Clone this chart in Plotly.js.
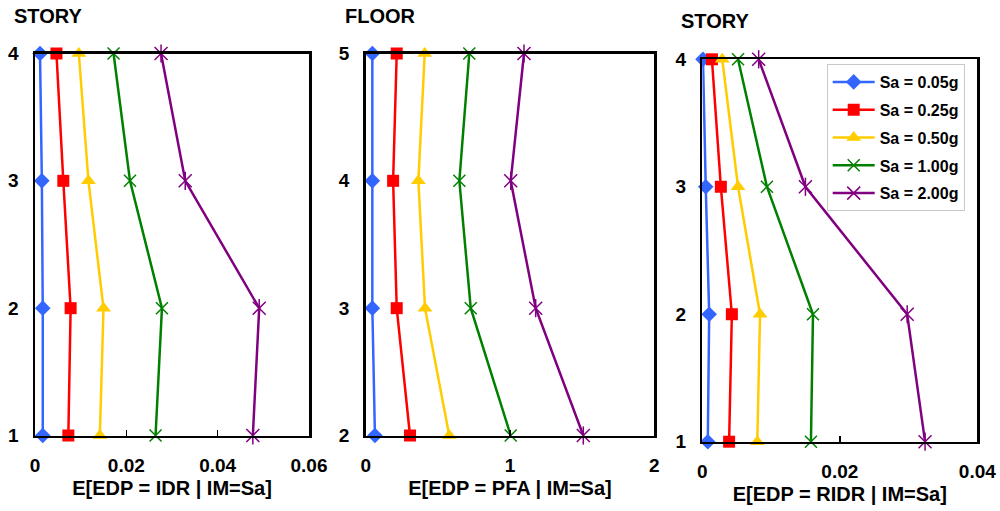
<!DOCTYPE html>
<html>
<head>
<meta charset="utf-8">
<script src="https://cdn.plot.ly/plotly-3.0.1.min.js"></script>
<style>html,body{margin:0;padding:0;background:#fff;}#chart{width:1000px;height:511px;}</style>
</head>
<body>
<div id="chart"></div>
<script>
// ---- data ----
const seriesNames = ["Sa = 0.05g", "Sa = 0.25g", "Sa = 0.50g", "Sa = 1.00g", "Sa = 2.00g"];
const stories = [1, 2, 3, 4];
const floors = [2, 3, 4, 5];

// Panel 1: E[IDR | Sa], by story 1..4
const idr_005 = [0.0017, 0.0017, 0.0015, 0.0011];
const idr_025 = [0.0073, 0.0078, 0.0062, 0.0047];
const idr_050 = [0.0142, 0.0150, 0.0117, 0.0096];
const idr_100 = [0.0264, 0.0278, 0.0208, 0.0172];
const idr_200 = [0.0477, 0.0491, 0.0329, 0.0276];

// Panel 2: E[PFA | Sa], by floor 2..5
const pfa_005 = [0.064, 0.046, 0.046, 0.046];
const pfa_025 = [0.307, 0.215, 0.190, 0.215];
const pfa_050 = [0.579, 0.411, 0.365, 0.409];
const pfa_100 = [1.005, 0.728, 0.649, 0.718];
const pfa_200 = [1.508, 1.178, 1.005, 1.097];

// Panel 3: E[RIDR | Sa], by story 1..4
const ridr_005 = [0.0008, 0.0010, 0.0005, 0.0001];
const ridr_025 = [0.0039, 0.0043, 0.0027, 0.0014];
const ridr_050 = [0.0080, 0.0084, 0.0052, 0.0029];
const ridr_100 = [0.0158, 0.0161, 0.0094, 0.0052];
const ridr_200 = [0.0324, 0.0298, 0.0150, 0.0082];

const xTitles = ["E[EDP = IDR | IM=Sa]", "E[EDP = PFA | IM=Sa]", "E[EDP = RIDR | IM=Sa]"];
const yLabels = ["STORY", "FLOOR", "STORY"];

// ---- styles ----
const colors = ["#3366FF", "#FF0000", "#FFCC00", "#008000", "#800080"];
const symbols = ["diamond", "square", "triangle-up", "x-thin-open", "x-thin-open"];
const sizes = [12, 12, 13, 12, 13];

const panels = [
  {vals: [idr_005, idr_025, idr_050, idr_100, idr_200], y: stories, xa: "x", ya: "y"},
  {vals: [pfa_005, pfa_025, pfa_050, pfa_100, pfa_200], y: floors, xa: "x2", ya: "y2"},
  {vals: [ridr_005, ridr_025, ridr_050, ridr_100, ridr_200], y: stories, xa: "x3", ya: "y3"}
];

const traces = [];
panels.forEach((p, pi) => {
  p.vals.forEach((v, si) => {
    const thin = symbols[si].indexOf("thin") >= 0;
    traces.push({
      type: "scatter", mode: "lines+markers",
      x: v, y: p.y, xaxis: p.xa, yaxis: p.ya,
      name: seriesNames[si], legendgroup: "g" + si,
      showlegend: pi === 2,
      cliponaxis: false,
      line: {color: colors[si], width: 2.5},
      marker: {symbol: symbols[si], size: sizes[si], color: colors[si],
               line: {color: colors[si], width: thin ? 1.5 : 0}}
    });
    if (si === 4) {
      // vertical bar of the star marker
      traces.push({
        type: "scatter", mode: "markers",
        x: v, y: p.y, xaxis: p.xa, yaxis: p.ya,
        legendgroup: "g" + si, showlegend: false, cliponaxis: false, hoverinfo: "skip",
        marker: {symbol: "line-ns-open", size: 13, color: colors[si],
                 line: {color: colors[si], width: 1.5}}
      });
    }
  });
});

const W = 1000, H = 511;
const fx = (a, b) => [a / W, b / W];
const fy = (top, bot) => [(H - bot) / H, (H - top) / H];

const fontBase = {family: "Liberation Sans, Arial, sans-serif", color: "#000", weight: "bold"};

function xax(domain, range, dtick, title, anchor) {
  return {
    domain: domain, range: range, dtick: dtick, tick0: 0, anchor: anchor,
    showgrid: false, zeroline: false, showline: true, mirror: true,
    linecolor: "#000", linewidth: 2.5,
    ticks: "inside", ticklen: 6, tickwidth: 1.5, tickcolor: "#000",
    ticklabelstandoff: 11,
    tickfont: Object.assign({size: 19}, fontBase),
    title: {text: title, font: Object.assign({size: 20}, fontBase), standoff: 6},
    fixedrange: true
  };
}
function yax(domain, range, anchor) {
  return {
    domain: domain, range: range, dtick: 1, anchor: anchor,
    showgrid: false, zeroline: false, showline: true, mirror: true,
    linecolor: "#000", linewidth: 2.5,
    ticks: "", ticklabelstandoff: 10,
    tickfont: Object.assign({size: 19}, fontBase),
    fixedrange: true
  };
}

const ann = [
  {text: yLabels[0], x: 12 / W, y: 1 - 16 / H},
  {text: yLabels[1], x: 343 / W, y: 1 - 15.5 / H},
  {text: yLabels[2], x: 679 / W, y: 1 - 21 / H}
].map(a => Object.assign(a, {xref: "paper", yref: "paper", xanchor: "left", yanchor: "middle",
  showarrow: false, font: Object.assign({size: 20}, fontBase)}));

const layout = {
  width: W, height: H,
  margin: {l: 0, r: 0, t: 0, b: 0},
  paper_bgcolor: "#fff", plot_bgcolor: "#fff",
  showlegend: true,
  legend: {
    x: 826.7 / W, y: 1 - 64 / H, xanchor: "left", yanchor: "top",
    bgcolor: "#fff", bordercolor: "#c8c8c8", borderwidth: 1,
    font: Object.assign({size: 16}, fontBase),
    itemwidth: 42,
    traceorder: "grouped", tracegroupgap: 4
  },
  xaxis: xax(fx(35, 309), [0, 0.06], 0.02, xTitles[0], "y"),
  yaxis: yax(fy(53.5, 435.5), [1, 4], "x"),
  xaxis2: xax(fx(365.7, 654.3), [0, 2], 1, xTitles[1], "y2"),
  yaxis2: yax(fy(53.5, 435.5), [2, 5], "x2"),
  xaxis3: xax(fx(702.3, 977.3), [0, 0.04], 0.02, xTitles[2], "y3"),
  yaxis3: yax(fy(59.3, 441.7), [1, 4], "x3"),
  annotations: ann
};

Plotly.newPlot("chart", traces, layout, {displayModeBar: false, staticPlot: true});
</script>
</body>
</html>
